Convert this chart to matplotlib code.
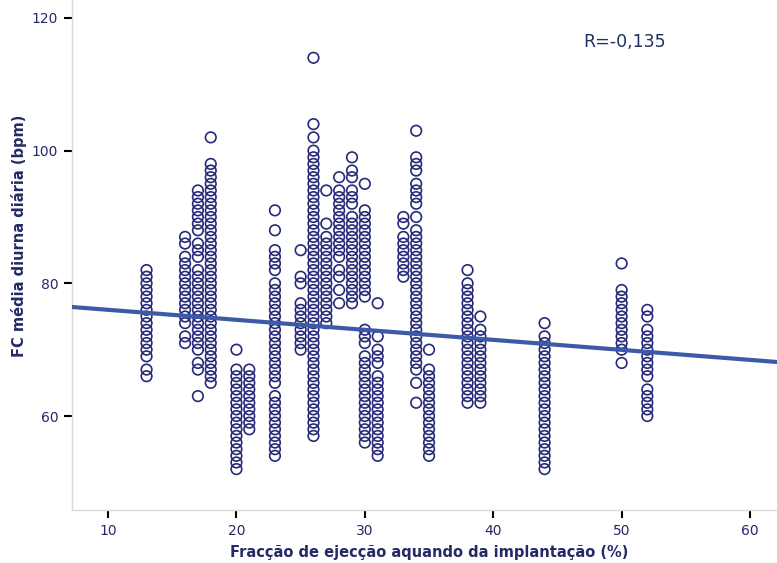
# coding=utf-8
import numpy as np
from matplotlib import pyplot as plt

# FC media diurna (bpm) por fraccao de ejeccao (%)
fe_vals = [13, 16, 17, 18, 20, 21, 23, 25, 26, 27, 28, 29, 30, 31, 33, 34, 35, 38, 39, 44, 50, 52]

hr_13 = [82, 81, 80, 79, 78, 77, 76, 75, 74, 73, 72, 71, 70, 69, 67, 66]
hr_16 = [87, 86, 84, 83, 82, 81, 80, 79, 78, 77, 76, 75, 74, 72, 71]
hr_17 = [94, 93, 92, 91, 90, 89, 88, 86, 85, 84, 82, 81, 80, 79, 78, 77, 76, 75, 74, 73, 72, 71, 70,
         68, 67, 63]
hr_18 = [102, 98, 97, 96, 95, 94, 93, 92, 91, 90, 89, 88, 87, 86, 85, 84, 83, 82, 81, 80, 79, 78, 77,
         76, 75, 74, 73, 72, 71, 70, 69, 68, 67, 66, 65]
hr_20 = [70, 67, 66, 65, 64, 63, 62, 61, 60, 59, 58, 57, 56, 55, 54, 53, 52]
hr_21 = [67, 66, 65, 64, 63, 62, 61, 60, 59, 58]
hr_23 = [91, 88, 85, 84, 83, 82, 80, 79, 78, 77, 76, 75, 74, 73, 72, 71, 70, 69, 68, 67, 66, 65,
         63, 62, 61, 60, 59, 58, 57, 56, 55, 54]
hr_25 = [85, 81, 80, 77, 76, 75, 74, 73, 72, 71, 70]
hr_26 = [114, 104, 102, 100, 99, 98, 97, 96, 95, 94, 93, 92, 91, 90, 89, 88, 87, 86, 85, 84, 83, 82,
         81, 80, 79, 78, 77, 76, 75, 74, 73, 72, 71, 70, 69, 68, 67, 66, 65, 64, 63, 62, 61, 60,
         59, 58, 57]
hr_27 = [94, 89, 87, 86, 85, 84, 83, 82, 81, 80, 79, 78, 77, 76, 75, 74]
hr_28 = [96, 94, 93, 92, 91, 90, 89, 88, 87, 86, 85, 84, 82, 81, 79, 77]
hr_29 = [99, 97, 96, 94, 93, 92, 90, 89, 88, 87, 86, 85, 84, 83, 82, 81, 80, 79, 78, 77]
hr_30 = [95, 91, 90, 89, 88, 87, 86, 85, 84, 83, 82, 81, 80, 79, 78, 73, 72, 71, 69, 68, 67, 66,
         65, 64, 63, 62, 61, 60, 59, 58, 57, 56]
hr_31 = [77, 72, 70, 69, 68, 66, 65, 64, 63, 62, 61, 60, 59, 58, 57, 56, 55, 54]
hr_33 = [90, 89, 87, 86, 85, 84, 83, 82, 81]
hr_34 = [103, 99, 98, 97, 95, 94, 93, 92, 90, 88, 87, 86, 85, 84, 83, 82, 81, 80, 79, 78, 77, 76,
         75, 74, 73, 72, 71, 70, 69, 68, 67, 65, 62]
hr_35 = [70, 67, 66, 65, 64, 63, 62, 61, 60, 59, 58, 57, 56, 55, 54]
hr_38 = [82, 80, 79, 78, 77, 76, 75, 74, 73, 72, 71, 70, 69, 68, 67, 66, 65, 64, 63, 62]
hr_39 = [75, 73, 72, 71, 70, 69, 68, 67, 66, 65, 64, 63, 62]
hr_44 = [74, 72, 71, 70, 69, 68, 67, 66, 65, 64, 63, 62, 61, 60, 59, 58, 57, 56, 55, 54, 53, 52]
hr_50 = [83, 79, 78, 77, 76, 75, 74, 73, 72, 71, 70, 68]
hr_52 = [76, 75, 73, 72, 71, 70, 69, 68, 67, 66, 64, 63, 62, 61, 60]

hr_cols = [hr_13, hr_16, hr_17, hr_18, hr_20, hr_21, hr_23, hr_25, hr_26, hr_27, hr_28,
           hr_29, hr_30, hr_31, hr_33, hr_34, hr_35, hr_38, hr_39, hr_44, hr_50, hr_52]

# recta de regressao
fit_intercept = 77.52
fit_slope = -0.151
r_text = 'R=-0,135'

x_ticks = [10, 20, 30, 40, 50, 60]
y_ticks = [60, 80, 100, 120]


def main():
    navy = '#262a78'
    label_c = '#232a66'
    fig = plt.figure(figsize=(7.77, 5.63), dpi=100)
    ax = fig.add_axes([0.0927, 0.0941, 0.9073, 0.9059])

    xs = []
    ys = []
    for fe, hr in zip(fe_vals, hr_cols):
        xs += [fe] * len(hr)
        ys += hr
    ax.scatter(xs, ys, s=58, facecolors='none', edgecolors=navy, linewidths=1.2, zorder=3)

    xlim = (7.196, 62.1)
    xl = np.array(xlim)
    ax.plot(xl, fit_intercept + fit_slope * xl, color='#3c5aa8', lw=3, zorder=4)

    ax.set_xlim(xlim)
    ax.set_ylim(45.83, 122.71)
    ax.set_xticks(x_ticks)
    ax.set_yticks(y_ticks)

    for s in ['top', 'right']:
        ax.spines[s].set_visible(False)
    for s in ['left', 'bottom']:
        ax.spines[s].set_color('#d9d9d9')
        ax.spines[s].set_linewidth(1)
    ax.tick_params(axis='both', colors='black', labelcolor=label_c, length=6, width=1.5,
                   labelsize=10, pad=4)

    # titulos dos eixos colocados na figura
    fig.text(0.552, 0.018, 'Fracção de ejecção aquando da implantação (%)', fontsize=10.5,
             fontweight='bold', color=label_c, ha='center', va='center')
    fig.text(0.0245, 0.581, 'FC média diurna diária (bpm)', fontsize=10.5, fontweight='bold',
             color=label_c, ha='center', va='center', rotation=90)

    ax.text(0.725, 0.918, r_text, transform=ax.transAxes, fontsize=12.5, color='#1f3060',
            va='center', ha='left')

    plt.savefig('out.png', dpi=100)


if __name__ == '__main__':
    main()
